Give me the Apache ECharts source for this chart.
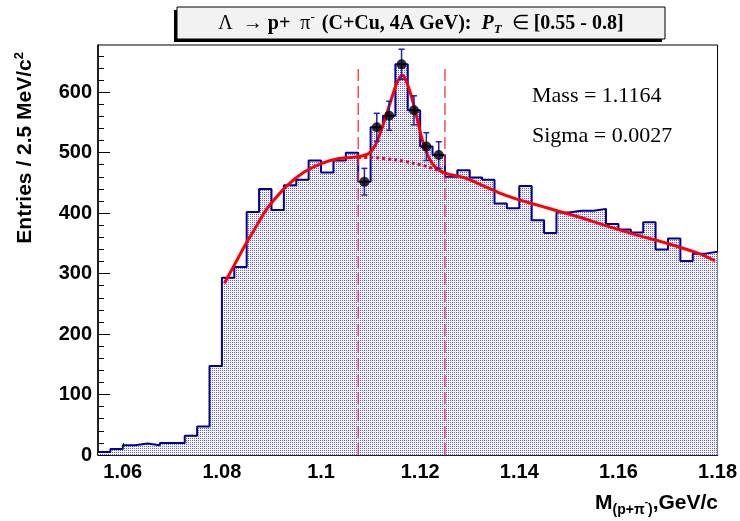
<!DOCTYPE html>
<html><head><meta charset="utf-8">
<script src="https://cdn.jsdelivr.net/npm/echarts@6/dist/echarts.min.js"></script>
<style>html,body{margin:0;padding:0;background:#fff}#c{width:740px;height:521px}</style>
</head><body><div id="c"></div>
<script>
// ---- data ----
const binStart = 1.055;
const binWidth = 0.0025;
const counts = [5,10,16,19,16,20,20,32,47,147,293,311,402,440,405,446,455,487,467,487,500,452,542,561,646,570,510,496,460,471,459,455,416,408,445,388,367,401,404,404,407,382,373,368,385,340,358,321,333,336];
const pointBins = [21,22,23,24,25,26,27];
const pointErrors = [22,23,24,25,24,23,22];
const fitX = [1.0805,1.0825,1.0849,1.0865,1.0885,1.0899,1.0932,1.0966,1.1000,1.1033,1.1060,1.1080,1.1097,1.1110,1.1124,1.1137,1.1151,1.1158,1.1164,1.1170,1.1181,1.1191,1.1204,1.1218,1.1231,1.1250,1.1291,1.1325,1.1358,1.1392,1.1425,1.1459,1.1493,1.1530,1.1560,1.1627,1.1694,1.1763,1.1795];
const fitY = [284,314,350,372,400,416,446,468,482,490,492,494,499,513,543,576,611,623,628,622,597,566,522,491,476,466,458,446,434,424,416,408,400,391,383,366,351,333,321];
const bgX = [1.1075,1.1097,1.1117,1.1151,1.1184,1.1218,1.1241,1.1250];
const bgY = [492,492,491,488,483,476,469,466];
const windowLines = [1.1075, 1.125];
const windowTop = 646;
const xTickLabels = [1.06,1.08,1.1,1.12,1.14,1.16,1.18];
const yTickLabels = [0,100,200,300,400,500,600];
const xMin = 1.055, xMax = 1.18, yMin = 0, yMax = 678;
const massText = 'Mass = 1.1164';
const sigmaText = 'Sigma = 0.0027';

// ---- derived ----
const histData = counts.map((v,i)=>[binStart+i*binWidth, v]);
histData.push([binStart+counts.length*binWidth, counts[counts.length-1]]);
const pts = pointBins.map((b,k)=>[binStart+(b+0.5)*binWidth, counts[b], pointErrors[k]]);
const fitData = fitX.map((x,i)=>[x, fitY[i]]);
const bgData = bgX.map((x,i)=>[x, bgY[i]]);
const xMinor = [];
for (let k=1; k<25; k++){ const v = +(binStart + k*0.005).toFixed(4); if (!xTickLabels.some(t=>Math.abs(t-v)<1e-6)) xMinor.push(v); }
const yMinor = [];
for (let v=20; v<yMax; v+=20){ if (v%100!==0) yMinor.push(v); }

const pc = document.createElement('canvas'); pc.width=2; pc.height=2;
const g = pc.getContext('2d');
g.fillStyle='#ffffff'; g.fillRect(0,0,2,2);
g.fillStyle='#5a5aff'; g.fillRect(0,0,1,1);
g.fillStyle='#eeeeff'; g.fillRect(1,1,1,1);

const SANS = 'Liberation Sans', SERIF = 'Liberation Serif';
const chart = echarts.init(document.getElementById('c'), null, {renderer:'canvas'});
const lblStyle = {fontSize:20, fontWeight:'bold', fontFamily:SANS, color:'#000'};
chart.setOption({
  animation:false,
  grid:{left:98, top:45, width:621, height:410, show:true, borderColor:'#000', borderWidth:1, backgroundColor:'rgba(0,0,0,0)'},
  xAxis:[
    {type:'value', min:xMin, max:xMax, position:'bottom',
     axisLine:{show:true, onZero:false, lineStyle:{color:'#000', width:1.5}},
     axisTick:{show:true, inside:true, length:12, customValues:xTickLabels, lineStyle:{color:'#000', width:1}},
     axisLabel:Object.assign({customValues:xTickLabels, margin:7}, lblStyle),
     splitLine:{show:false}},
    {type:'value', min:xMin, max:xMax, position:'bottom',
     axisLine:{show:false},
     axisTick:{show:true, inside:true, length:6, customValues:xMinor, lineStyle:{color:'#000', width:1}},
     axisLabel:{show:false}, splitLine:{show:false}}
  ],
  yAxis:[
    {type:'value', min:yMin, max:yMax, position:'left',
     axisLine:{show:true, onZero:false, lineStyle:{color:'#000', width:1.5}},
     axisTick:{show:true, inside:true, length:12, customValues:yTickLabels, lineStyle:{color:'#000', width:1}},
     axisLabel:Object.assign({customValues:yTickLabels, margin:6}, lblStyle),
     splitLine:{show:false}},
    {type:'value', min:yMin, max:yMax, position:'left',
     axisLine:{show:false},
     axisTick:{show:true, inside:true, length:6, customValues:yMinor, lineStyle:{color:'#000', width:1}},
     axisLabel:{show:false}, splitLine:{show:false}}
  ],
  series:[
    {type:'line', name:'hist', data:histData, step:'end', showSymbol:false, z:1,
     lineStyle:{color:'#000099', width:2},
     areaStyle:{color:{image:pc, repeat:'repeat'}, opacity:1}},
    {type:'line', data:[[windowLines[0],0],[windowLines[0],windowTop]], showSymbol:false, z:2,
     lineStyle:{color:'#ff2020', width:1.2, type:[12,5]}},
    {type:'line', data:[[windowLines[1],0],[windowLines[1],windowTop]], showSymbol:false, z:2,
     lineStyle:{color:'#ff2020', width:1.2, type:[12,5]}},
    {type:'line', data:bgData, showSymbol:false, smooth:0.3, z:3,
     lineStyle:{color:'#ff0000', width:3, type:[3,3]}},
    {type:'line', data:fitData, showSymbol:false, smooth:0.3, z:4,
     lineStyle:{color:'#ff0000', width:3}},
    {type:'custom', data:pts, z:5,
     renderItem:function(params, api){
       const x=api.value(0), y=api.value(1), e=api.value(2);
       const t=api.coord([x,y+e]), b=api.coord([x,y-e]);
       const st={stroke:'#2222aa', lineWidth:1.5};
       return {type:'group', children:[
         {type:'line', shape:{x1:t[0],y1:t[1],x2:b[0],y2:b[1]}, style:st},
         {type:'line', shape:{x1:t[0]-3,y1:t[1],x2:t[0]+3,y2:t[1]}, style:st},
         {type:'line', shape:{x1:b[0]-3,y1:b[1],x2:b[0]+3,y2:b[1]}, style:st}
       ]};
     }},
    {type:'scatter', data:pts.map(p=>[p[0],p[1]]), symbol:'circle', symbolSize:10, z:6,
     itemStyle:{color:'#000'}}
  ],
  graphic:[
    {type:'rect', shape:{x:174, y:10, width:488, height:32}, style:{fill:'#000'}, z:10},
    {type:'rect', shape:{x:177, y:7, width:488, height:32}, style:{fill:'#f2f2f2', stroke:'#000', lineWidth:1}, z:11},
    {type:'text', x:421, y:24, z:12, style:{
      text:'{n|Λ  → }{b|p+  }{n|π}{sup|-}{b| (C+Cu, 4A GeV):  }{it|P}{sub|T}{n|  ∈ }{b|[0.55 - 0.8]}',
      align:'center', verticalAlign:'middle',
      rich:{
        n:{fontFamily:SERIF, fontSize:20, fill:'#000'},
        b:{fontFamily:SERIF, fontSize:20, fontWeight:'bold', fill:'#000'},
        it:{fontFamily:SERIF, fontSize:20, fontWeight:'bold', fontStyle:'italic', fill:'#000'},
        sup:{fontFamily:SERIF, fontSize:13, fill:'#000', padding:[0,2,12,0]},
        sub:{fontFamily:SERIF, fontSize:13, fontWeight:'bold', fontStyle:'italic', fill:'#000', padding:[12,0,0,0]}
      }}},
    {type:'text', x:532, y:96, z:12, style:{text:massText, fontFamily:SERIF, fontSize:22, fill:'#000', verticalAlign:'middle'}},
    {type:'text', x:532, y:136, z:12, style:{text:sigmaText, fontFamily:SERIF, fontSize:22, fill:'#000', verticalAlign:'middle'}},
    {type:'text', x:25, y:52, rotation:Math.PI/2, z:12, style:{
      text:'{t|Entries / 2.5 MeV/c}{s|2}', align:'right', verticalAlign:'middle',
      rich:{t:{fontFamily:SANS, fontSize:21, fontWeight:'bold', fill:'#000'},
            s:{fontFamily:SANS, fontSize:13, fontWeight:'bold', fill:'#000', padding:[0,0,12,0]}}}},
    {type:'text', x:718, y:503, z:12, style:{
      text:'{t|M}{s|(p+π}{ss|-}{s|)}{t|,GeV/c}', align:'right', verticalAlign:'middle',
      rich:{t:{fontFamily:SANS, fontSize:21, fontWeight:'bold', fill:'#000'},
            s:{fontFamily:SANS, fontSize:14, fontWeight:'bold', fill:'#000', padding:[14,0,0,0]},
            ss:{fontFamily:SANS, fontSize:10, fontWeight:'bold', fill:'#000', padding:[0,0,2,0]}}}}
  ]
});
</script></body></html>
